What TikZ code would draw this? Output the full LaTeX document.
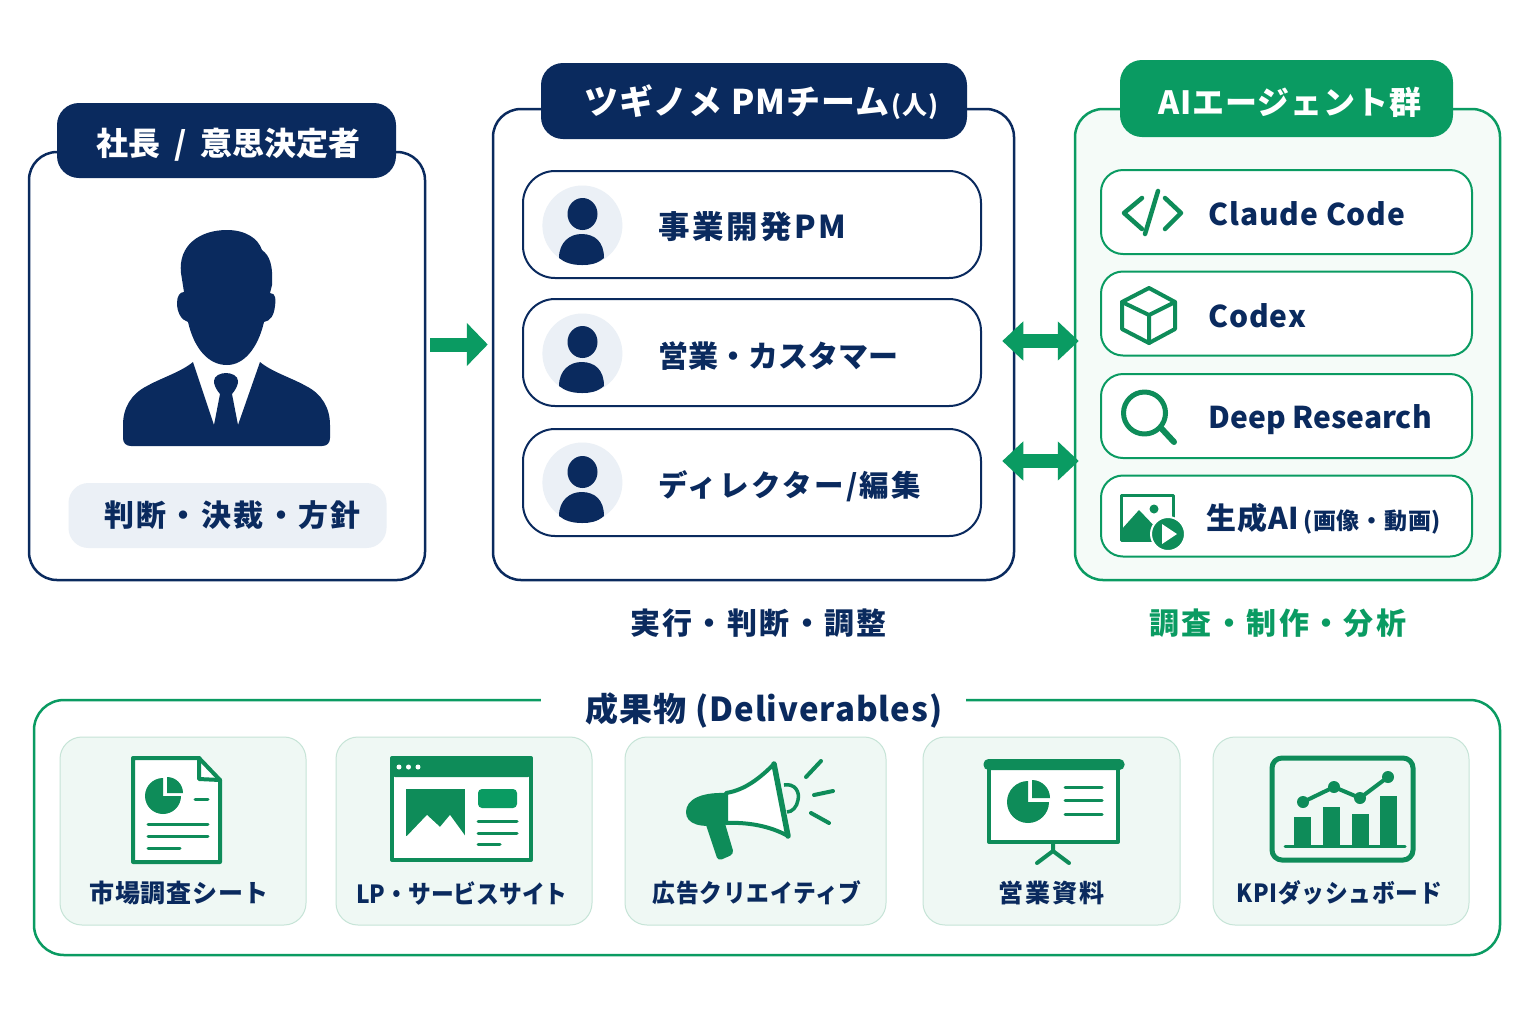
\documentclass[tikz,border=0pt]{standalone}
\usepackage{fontspec}
\usepackage{xcolor}
\usetikzlibrary{arrows.meta, positioning}

\setmainfont{Noto Sans CJK JP}
\newfontfamily\jpwide{Noto Sans CJK JP}[LetterSpace=8]
\newfontfamily\jpmid{Noto Sans CJK JP}[LetterSpace=3]
\newfontfamily\jpnarrow{Noto Sans CJK JP}[LetterSpace=3,FakeStretch=0.91]

\definecolor{navy}{HTML}{0A2A5E}
\definecolor{brand}{HTML}{0A9B62}
\definecolor{icongreen}{HTML}{0E8C59}
\definecolor{panelgreen}{HTML}{F5FBF8}
\definecolor{cardgreen}{HTML}{EFF8F4}
\definecolor{cardline}{HTML}{C6E4D7}
\definecolor{palenavy}{HTML}{EBF0F6}

\begin{document}
\begin{tikzpicture}[
    x=0.5pt, y=-0.5pt,
    panel/.style={rectangle, draw=navy, fill=white, line width=1.25pt, rounded corners=14pt, inner sep=0pt},
    aipanel/.style={panel, draw=brand, fill=panelgreen},
    header/.style={rectangle, fill=navy, rounded corners=11pt, inner sep=0pt},
    headtext/.style={text=white, inner sep=0pt, font=\jpmid\bfseries\fontsize{17}{20}\selectfont},
    member/.style={rectangle, draw=navy, fill=white, line width=1pt, rounded corners=16pt, minimum width=229pt, minimum height=53.5pt, inner sep=0pt},
    tool/.style={rectangle, draw=brand, fill=white, line width=1pt, rounded corners=11pt, minimum width=185.5pt, minimum height=42pt, inner sep=0pt},
    deliv/.style={rectangle, draw=cardline, fill=cardgreen, line width=0.5pt, rounded corners=11pt, minimum height=94pt, inner sep=0pt},
    avatar/.style={circle, fill=palenavy, minimum size=40pt, inner sep=0pt},
    memberlabel/.style={text=navy, inner sep=0pt, font=\jpmid\bfseries\fontsize{15}{20}\selectfont},
    toollabel/.style={text=navy, inner sep=0pt, yshift=-1pt, font=\jpmid\bfseries\fontsize{15}{20}\selectfont},
    cardlabel/.style={text=navy, inner sep=0pt, font=\jpnarrow\bfseries\fontsize{12.5}{15}\selectfont},
    caption/.style={inner sep=0pt, font=\jpwide\bfseries\fontsize{15}{18}\selectfont},
    flow/.style={-{Triangle[length=10.5pt,width=21pt]}, draw=brand, line width=7pt},
    twoway/.style={{Triangle[length=10.5pt,width=19pt]}-{Triangle[length=10.5pt,width=19pt]}, draw=brand, line width=7pt},
    iconline/.style={draw=icongreen, line width=2pt, line cap=round, line join=round},
    iconthin/.style={draw=icongreen, line width=1.5pt, line cap=round}
]
\useasboundingbox (0,0) rectangle (1536,1024);

% top row panels
\node[panel, minimum width=198pt, minimum height=214pt] (boss) at (227,366) {};
\node[panel, minimum width=260.5pt, minimum height=235.5pt] (team) at (753.5,344.5) {};
\node[aipanel, minimum width=212.5pt, minimum height=235.5pt] (agents) at (1287.5,344.5) {};

\node[header, minimum width=169.5pt, minimum height=37.5pt] (bosshead) at (226.5,140.5) {};
\node[header, minimum width=213pt, minimum height=38pt] (teamhead) at (754,101) {};
\node[header, fill=brand, minimum width=166.5pt, minimum height=38.5pt] (agenthead) at (1286.5,98.5) {};
\node[headtext, font=\bfseries\fontsize{16}{20}\selectfont] (bosstitle) at (228.5,144.5) {社長\hspace{7pt}/\hspace{7pt}意思決定者};
\node[headtext] (teamtitle) at (761.5,102) {ツギノメ PMチーム{\fontsize{12.5}{15}\selectfont\hspace{1pt}(人)}};
\node[headtext, font=\jpmid\bfseries\fontsize{16}{20}\selectfont] (agenttitle) at (1290,102.5) {AIエージェント群};

% boss figure
\fill[navy] (181,273) .. controls (178,245) and (200,230) .. (227,230) .. controls (245,230) and (258,238) .. (262,250) .. controls (270,256) and (273,265) .. (272,285) -- (270,293) .. controls (276,293) and (276,300) .. (275,306) .. controls (274,316) and (270,321) .. (264,322) .. controls (258,348) and (244,365) .. (227,365) .. controls (208,365) and (194,348) .. (188,322) .. controls (181,320) and (177,312) .. (177,303) .. controls (177,296) and (180,292) .. (184,292) -- cycle;
\fill[navy] (193,362) -- (214,425) -- (220,394) .. controls (215,388) and (214,384) .. (214,381) .. controls (214,376) and (220,373) .. (226,373) .. controls (232,373) and (238,376) .. (238,381) .. controls (238,384) and (237,388) .. (232,394) -- (238,425) -- (260,362) .. controls (272,372) and (292,378) .. (306,386) .. controls (322,394) and (330,408) .. (330,425) -- (330,438) .. controls (330,443) and (327,446) .. (322,446) -- (131,446) .. controls (126,446) and (123,443) .. (123,438) -- (123,425) .. controls (123,408) and (131,394) .. (147,386) .. controls (161,378) and (181,372) .. (193,362) -- cycle;
\node[rectangle, fill=palenavy, rounded corners=10pt, minimum width=159pt, minimum height=32.5pt, inner sep=0pt, text=navy, font=\jpwide\bfseries\fontsize{15}{18}\selectfont] (bosstag) at (227.5,515.5) {\hspace*{5pt}判断・決裁・方針};

% team members
\node[member] (member1) at (752,224.5) {};
\node[member, below=9.5pt of member1] (member2) {};
\node[member, below=10.5pt of member2] (member3) {};
\node[avatar, right=10pt of member1.west, yshift=-0.5pt] (face1) {};
\node[avatar, right=10pt of member2.west, yshift=-0.5pt] (face2) {};
\node[avatar, right=10pt of member3.west] (face3) {};
\foreach \yy in {226,354,484} {
    \fill[navy] (582.5,\yy-12) ellipse (15 and 16);
    \fill[navy] (559,\yy+32) .. controls (559,\yy+16) and (570,\yy+8) .. (581.5,\yy+8) .. controls (595,\yy+8) and (604,\yy+16) .. (604,\yy+32) .. controls (597,\yy+38) and (590,\yy+39) .. (582,\yy+39) .. controls (573,\yy+39) and (565,\yy+37) .. cycle;
}
\node[memberlabel, right=17.5pt of face1, yshift=-0.5pt, font=\jpwide\bfseries\fontsize{15.75}{20}\selectfont] (name1) {事業開発PM};
\node[memberlabel, right=17.5pt of face2, yshift=-1.25pt, font=\bfseries\fontsize{15}{20}\selectfont] (name2) {営業・カスタマー};
\node[memberlabel, right=17.5pt of face3, yshift=-1.75pt, font=\jpwide\bfseries\fontsize{14.75}{20}\selectfont] (name3) {ディレクター/編集};

% ai tools
\node[tool] (tool1) at (1286.5,212) {};
\node[tool, below=7.75pt of tool1] (tool2) {};
\node[tool, below=8.25pt of tool2] (tool3) {};
\node[tool, below=7.75pt of tool3, minimum height=40.5pt] (tool4) {};
\node[toollabel, right=54pt of tool1.west] (toolname1) {Claude Code};
\node[toollabel, right=54pt of tool2.west] (toolname2) {Codex};
\node[toollabel, right=54pt of tool3.west, yshift=-0.75pt, font=\bfseries\fontsize{15}{20}\selectfont] (toolname3) {Deep Research};
\node[toollabel, right=53pt of tool4.west, yshift=-0.5pt] (toolname4) {生成AI{\fontsize{11.5}{15}\selectfont\hspace{2pt}(画像・動画)}};

% tool icons
\draw[iconline, line width=2.25pt] (1142,198) -- (1124,213) -- (1142,229);
\draw[iconline, line width=2.25pt] (1158,191) -- (1145,234);
\draw[iconline, line width=2.25pt] (1165,198) -- (1181,213) -- (1165,229);
\draw[iconline] (1149,288) -- (1175,302) -- (1175,329) -- (1149,343) -- (1122,329) -- (1122,302) -- cycle;
\draw[iconline] (1122,302) -- (1149,315) -- (1175,302) (1149,315) -- (1149,343);
\draw[iconline, line width=2.5pt] (1144.5,413) circle (21);
\draw[iconline, line width=3pt] (1161,428) -- (1174,442);
\draw[iconline, line width=1.5pt] (1121,495) rectangle (1173,540);
\fill[icongreen] (1121,530) -- (1139,510) -- (1160,532) -- (1160,541) -- (1121,541) -- cycle;
\fill[icongreen] (1154,509) circle (4.5);
\filldraw[fill=icongreen, draw=white, line width=1pt] (1168,534) circle (17);
\fill[white] (1162,524) -- (1177,534) -- (1162,544) -- cycle;

% connectors
\coordinate (link1) at (0,341);
\coordinate (link2) at (0,461);
\draw[flow, shorten <=2pt, shorten >=2pt] (boss.east |- team.west) -- (team.west);
\draw[twoway, shorten <=-6.5pt, shorten >=-2.5pt] (team.east |- link1) -- (agents.west |- link1);
\draw[twoway, shorten <=-6.5pt, shorten >=-2.5pt] (team.east |- link2) -- (agents.west |- link2);

% captions
\node[caption, text=navy] (teamcap) at (758.5,623) {実行・判断・調整};
\node[caption, text=brand] (agentcap) at (1278,623) {調査・制作・分析};

% deliverables
\node[panel, draw=brand, minimum width=733pt, minimum height=127.5pt, rounded corners=15pt] (outputs) at (767,827.5) {};
\fill[white] (541,690) rectangle (966,712);
\node[text=navy, inner sep=0pt, font=\jpmid\bfseries\fontsize{16.5}{20}\selectfont] (outtitle) at (764,710) {成果物 (Deliverables)};

\node[deliv, minimum width=123pt] (card1) at (183,831) {};
\node[deliv, minimum width=128pt] (card2) at (464,831) {};
\node[deliv, minimum width=130.5pt] (card3) at (755.5,831) {};
\node[deliv, minimum width=128.5pt] (card4) at (1051.5,831) {};
\node[deliv, minimum width=128pt] (card5) at (1341,831) {};
\node[cardlabel, font=\jpmid\bfseries\fontsize{12.5}{15}\selectfont] (cardname1) at (179,893) {市場調査シート};
\node[cardlabel] (cardname2) at (462,893) {\addfontfeature{LetterSpace=0}LP・サービスサイト};
\node[cardlabel] (cardname3) at (757,893) {広告クリエイティブ};
\node[cardlabel, font=\jpwide\bfseries\fontsize{12.5}{15}\selectfont] (cardname4) at (1051,893) {営業資料};
\node[cardlabel] (cardname5) at (1339,893) {KPIダッシュボード};

% report icon
\filldraw[iconline, fill=white] (133,758) -- (199,758) -- (220,780) -- (220,862) -- (133,862) -- cycle;
\draw[iconline] (199,758) -- (199,779) -- (220,780);
\fill[icongreen] (163,796) -- (163,778) arc (270:0:18) -- cycle;
\fill[icongreen] (167,793) -- (167,777) arc (270:360:16) -- cycle;
\foreach \xa/\xb/\yy in {195/208/799,148/208/824,148/208/836,148/180/848} {
    \draw[iconthin] (\xa,\yy) -- (\xb,\yy);
}

% browser icon
\filldraw[iconline, fill=white] (392,758) rectangle (531,860);
\fill[icongreen, rounded corners=2pt] (391,757) rectangle (532,777);
\foreach \xx in {399,408.5,418} {
    \fill[white] (\xx,767) circle (2.5);
}
\fill[icongreen] (406,789) rectangle (465,836);
\fill[white] (406,837) -- (427,815) -- (440,827) -- (450,815) -- (466,837) -- cycle;
\fill[brand, rounded corners=2pt] (478,789) rectangle (517,808);
\foreach \yy/\xx in {821/517,833/517,844/500} {
    \draw[iconthin] (478,\yy) -- (\xx,\yy);
}

% megaphone icon
\draw[icongreen, line width=1.75pt] (784,785) .. controls (795,783) and (800,792) .. (798,800) .. controls (797,807) and (792,812) .. (787,812);
\fill[icongreen, rounded corners=2pt] (705,822) -- (718,861) -- (734,854) -- (724,820) -- cycle;
\fill[icongreen] (726,793) .. controls (700,792) and (686,800) .. (686,812) .. controls (686,824) and (700,829) .. (726,824) -- cycle;
\filldraw[iconline, fill=white] (726,793) .. controls (745,790) and (760,778) .. (774,764) -- (788,836) .. controls (770,826) and (748,822) .. (726,823) -- cycle;
\draw[iconline, line width=2.75pt] (774,764) -- (788,836);
\draw[iconline] (806,777) -- (821,761);
\draw[iconline] (814,795) -- (833,791);
\draw[iconline] (811,813) -- (829,823);

% presentation icon
\filldraw[iconline, fill=white] (989,765) rectangle (1118,842);
\fill[icongreen, rounded corners=2.5pt] (983.5,759) rectangle (1124.5,770);
\fill[icongreen] (1028,802) -- (1028,781) arc (270:0:21) -- cycle;
\fill[icongreen] (1032,798) -- (1032,780) arc (270:360:18) -- cycle;
\foreach \yy in {787,800,814} {
    \draw[iconthin] (1065,\yy) -- (1102,\yy);
}
\draw[iconline] (1053,842) -- (1053,851) -- (1037,863);
\draw[iconline] (1053,851) -- (1069,863);

% dashboard icon
\draw[icongreen, line width=2.5pt, rounded corners=5pt] (1272,758) rectangle (1413,860);
\foreach \xa/\xb/\yy in {1294/1311/817,1323/1340/807,1352/1369/814,1380/1397/796} {
    \fill[icongreen] (\xa,\yy) rectangle (\xb,846);
}
\draw[iconthin] (1285,846) -- (1405,846);
\draw[iconline] (1303,802) -- (1334,787) -- (1360,798) -- (1388,777);
\foreach \xx/\yy in {1303/802,1334/787,1360/798,1388/777} {
    \fill[icongreen] (\xx,\yy) circle (6);
}

\end{tikzpicture}
\end{document}
